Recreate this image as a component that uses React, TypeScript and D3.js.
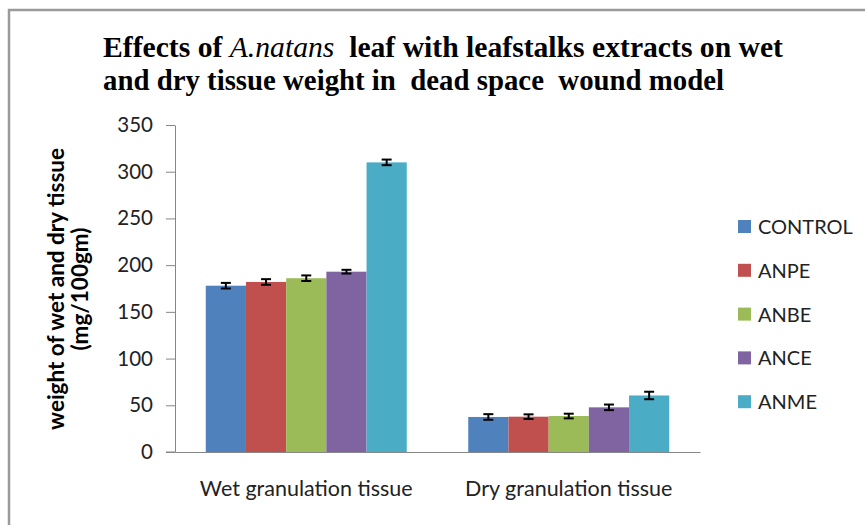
import { useEffect, useRef } from 'react';
import * as d3 from 'd3';

const categories = ['Wet granulation tissue', 'Dry granulation tissue'];
const seriesNames = ['CONTROL', 'ANPE', 'ANBE', 'ANCE', 'ANME'];
const colors = ['#4F81BD', '#C0504D', '#9BBB59', '#8064A2', '#4BACC6'];
// values per series: [wet, dry]
const means = [
    [178, 37.5],
    [182, 37.8],
    [186, 38.5],
    [193, 47.8],
    [310, 60.5],
];
const errors = [
    [3, 3],
    [3, 2.5],
    [3, 2.5],
    [2, 3],
    [3, 4],
];
const yTicks = [0, 50, 100, 150, 200, 250, 300, 350];

const App = () => {
    const svgRef = useRef<SVGSVGElement>(null);

    useEffect(() => {
        const svg = d3.select(svgRef.current);
        svg.selectAll('*').remove();

        const width = 865;
        const height = 525;
        const margin = { top: 125, right: 165, bottom: 73, left: 175 };
        const font = 'Lato, "Open Sans", sans-serif';

        // frame
        svg.append('path')
            .attr('d', `M9,${height} L9,10 L${width},10`)
            .attr('fill', 'none')
            .attr('stroke', '#9a9a9a')
            .attr('stroke-width', 2.5);

        // scales
        const x0 = d3.scaleBand()
            .domain(categories)
            .range([margin.left, width - margin.right])
            .padding(0);

        const x1 = d3.scaleBand()
            .domain(seriesNames)
            .range([0, x0.bandwidth()])
            .paddingInner(0)
            .paddingOuter(0.765);

        const y = d3.scaleLinear()
            .domain([0, 350])
            .range([height - margin.bottom, margin.top]);

        // y axis
        const yAxis = svg.append('g')
            .attr('transform', `translate(${margin.left},0)`)
            .call(d3.axisLeft(y).tickValues(yTicks).tickSize(9).tickPadding(13).tickSizeOuter(0));
        yAxis.select('.domain').attr('stroke', '#868686');
        yAxis.selectAll('.tick line').attr('stroke', '#868686');
        yAxis.selectAll('.tick text')
            .attr('fill', '#222')
            .style('font-family', font)
            .style('font-size', '20.5px');

        // x axis
        const xAxis = svg.append('g')
            .attr('transform', `translate(0,${y(0)})`)
            .call(d3.axisBottom(x0).tickSize(0).tickSizeOuter(0).tickPadding(29));
        xAxis.select('.domain').attr('stroke', '#868686');
        xAxis.append('line')
            .attr('x1', margin.left - 9)
            .attr('x2', margin.left)
            .attr('stroke', '#868686');
        xAxis.selectAll('.tick text')
            .attr('fill', '#222')
            .style('font-family', font)
            .style('font-size', '21.5px');

        // bars
        const groups = svg.append('g')
            .selectAll('g')
            .data(categories)
            .join('g')
            .attr('transform', (d) => `translate(${x0(d)},0)`);

        groups.selectAll('rect')
            .data((d, ci) => seriesNames.map((s, si) => ({ s, si, v: means[si][ci], e: errors[si][ci] })))
            .join('rect')
            .attr('x', (d) => x1(d.s)!)
            .attr('y', (d) => y(d.v))
            .attr('width', x1.bandwidth())
            .attr('height', (d) => y(0) - y(d.v))
            .attr('fill', (d) => colors[d.si]);

        // error bars
        const eb = groups.selectAll('g.err')
            .data((d, ci) => seriesNames.map((s, si) => ({ s, si, v: means[si][ci], e: errors[si][ci] })))
            .join('g')
            .attr('class', 'err')
            .attr('transform', (d) => `translate(${x1(d.s)! + x1.bandwidth() / 2},0)`)
            .attr('stroke', '#000')
            .attr('stroke-width', 2);
        eb.append('line')
            .attr('y1', (d) => y(d.v - d.e))
            .attr('y2', (d) => y(d.v + d.e));
        eb.append('line')
            .attr('x1', -5).attr('x2', 5)
            .attr('y1', (d) => y(d.v - d.e))
            .attr('y2', (d) => y(d.v - d.e));
        eb.append('line')
            .attr('x1', -5).attr('x2', 5)
            .attr('y1', (d) => y(d.v + d.e))
            .attr('y2', (d) => y(d.v + d.e));

        // legend
        const legend = svg.append('g')
            .selectAll('g')
            .data(seriesNames)
            .join('g')
            .attr('transform', (d, i) => `translate(738,${227 + i * 43.8})`);
        legend.append('rect')
            .attr('x', 0)
            .attr('y', -7)
            .attr('width', 13)
            .attr('height', 13)
            .attr('fill', (d, i) => colors[i]);
        legend.append('text')
            .attr('x', 20)
            .attr('y', 0)
            .attr('dy', '0.35em')
            .attr('fill', '#222')
            .style('font-family', font)
            .style('font-size', '20px')
            .text((d) => d);

        // y axis title
        const yt = svg.append('text')
            .attr('transform', 'translate(0,289) rotate(-90)')
            .attr('text-anchor', 'middle')
            .attr('fill', '#000')
            .style('font-family', font)
            .style('font-size', '22.5px')
            .style('font-weight', 'bold');
        yt.append('tspan').attr('x', 0).attr('y', 64).text('weight of wet and dry tissue');
        yt.append('tspan').attr('x', 0).attr('y', 88).text('(mg/100gm)');

        // title
        const serif = '"Liberation Serif", "Times New Roman", serif';
        const t1 = svg.append('text')
            .attr('x', 103)
            .attr('y', 57)
            .attr('textLength', 680)
            .attr('lengthAdjust', 'spacingAndGlyphs')
            .style('font-family', serif)
            .style('font-size', '30px')
            .style('font-weight', 'bold')
            .style('white-space', 'pre');
        t1.append('tspan').text('Effects of ');
        t1.append('tspan').style('font-style', 'italic').style('font-weight', 'normal').text('A.natans');
        t1.append('tspan').text('  leaf with leafstalks extracts on wet');
        svg.append('text')
            .attr('x', 103)
            .attr('y', 90)
            .attr('textLength', 621)
            .attr('lengthAdjust', 'spacingAndGlyphs')
            .style('font-family', serif)
            .style('font-size', '30px')
            .style('font-weight', 'bold')
            .style('white-space', 'pre')
            .text('and dry tissue weight in  dead space  wound model');
    }, []);

    return (
        <svg
            ref={svgRef}
            width={865}
            height={525}
            style={{ position: 'absolute', left: 0, top: 0, background: '#fff' }}
        />
    );
};

export default App;
